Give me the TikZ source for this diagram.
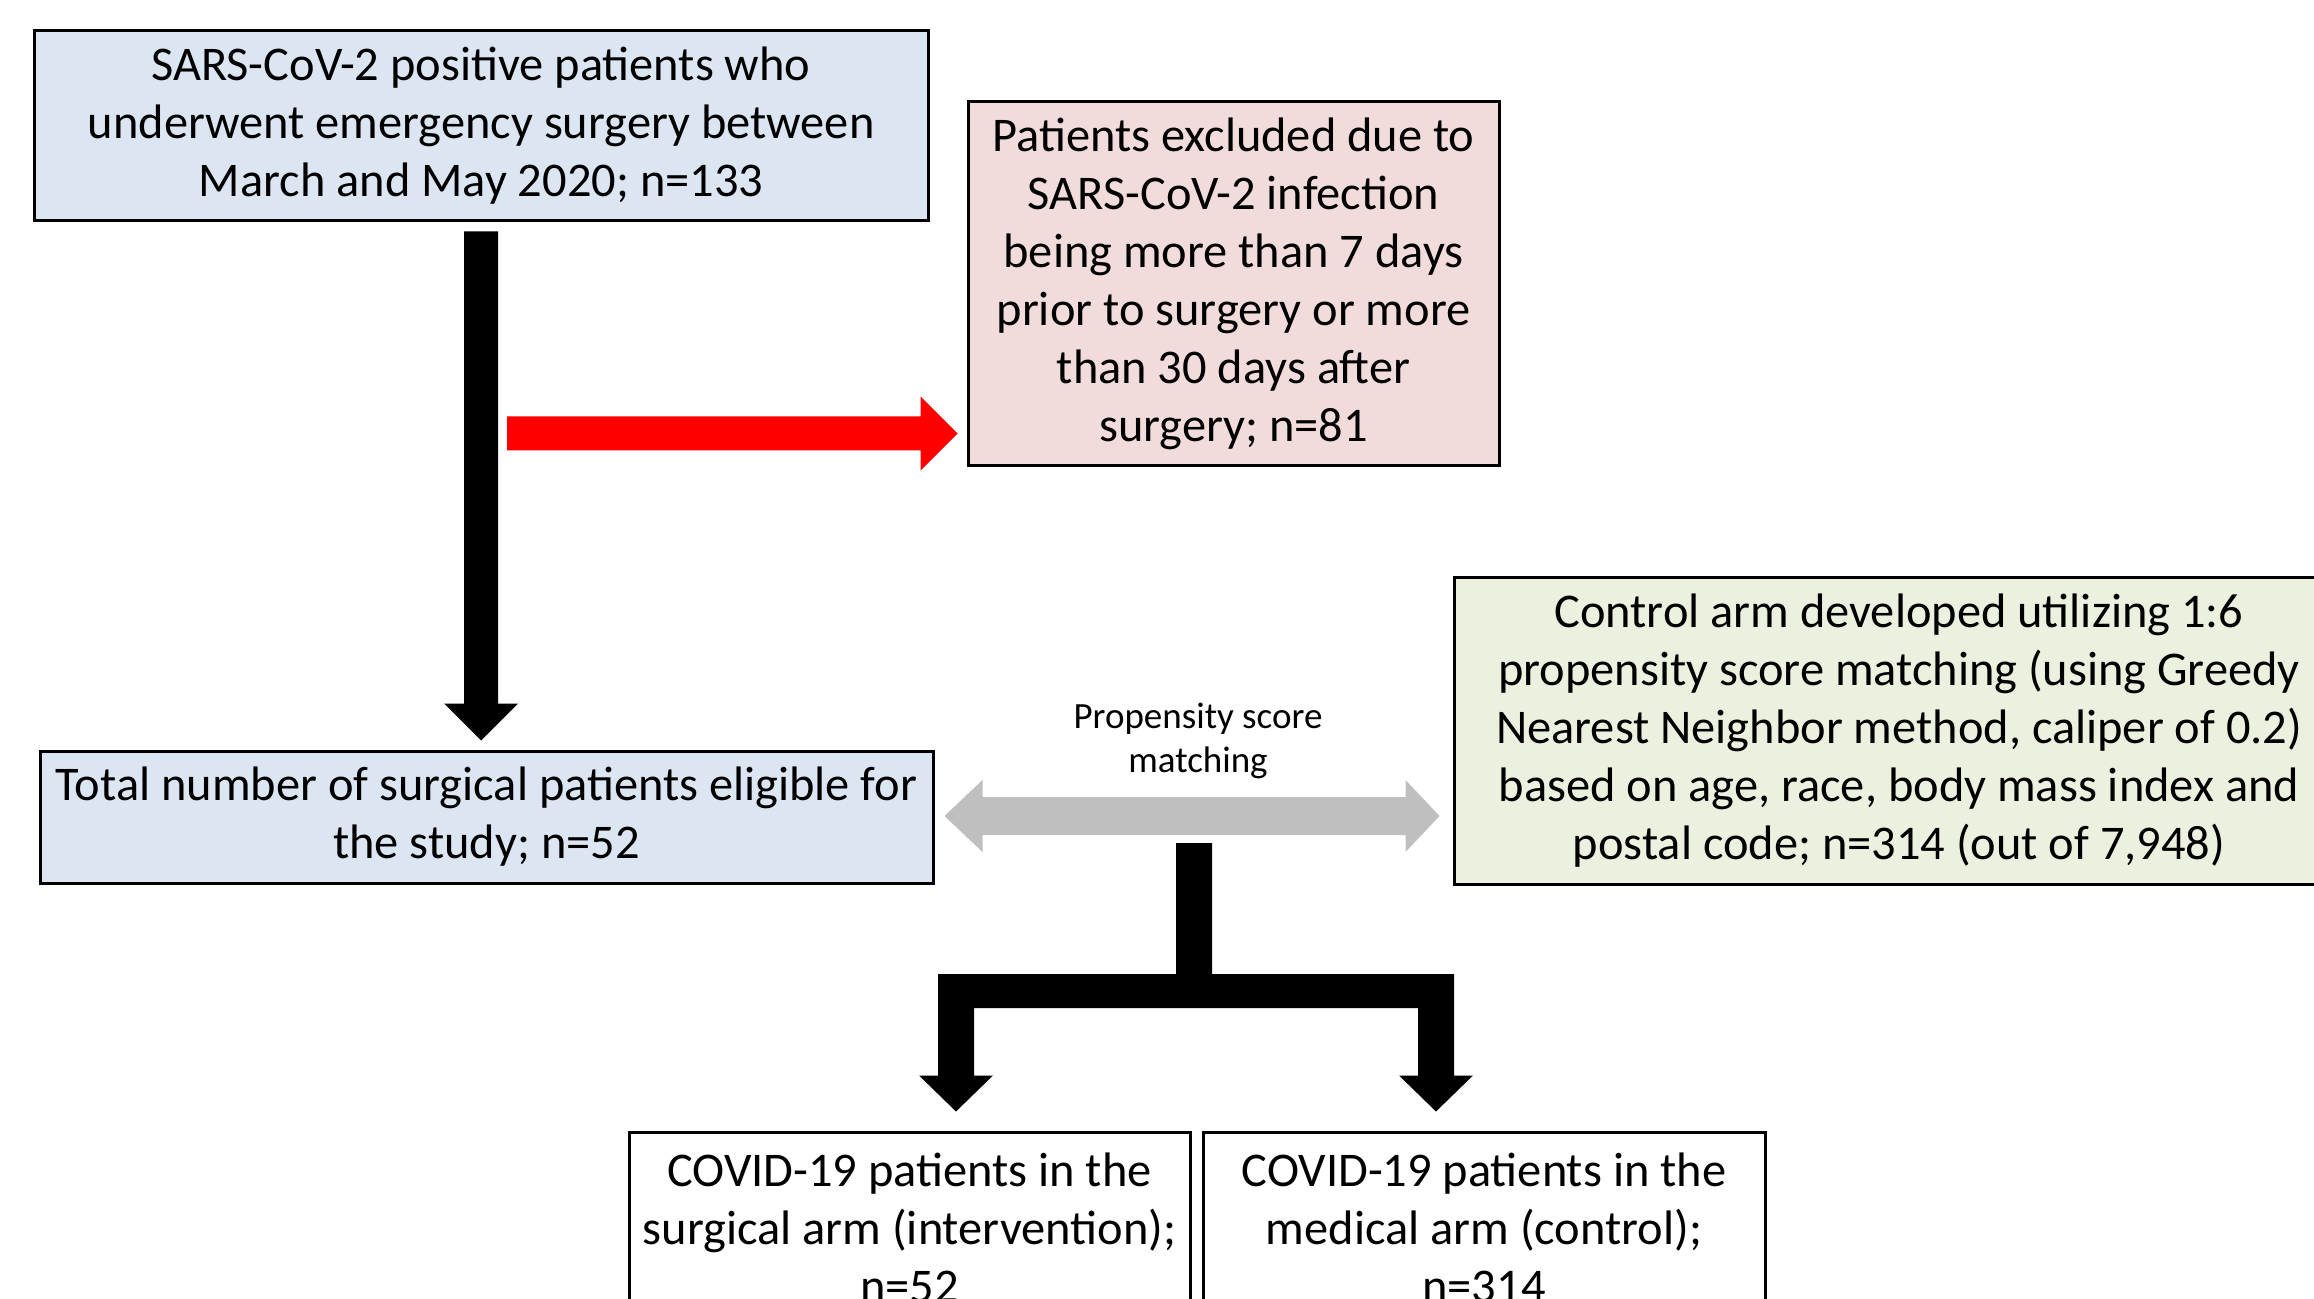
\documentclass[tikz,border=0pt]{standalone}
\usepackage{fontspec}
\setmainfont{Carlito}
\usetikzlibrary{calc}
\definecolor{boxblue}{HTML}{DCE6F2}
\definecolor{boxpink}{HTML}{F2DCDB}
\definecolor{boxgreen}{HTML}{EBF1DE}
\definecolor{arrowgrey}{HTML}{BFBFBF}
\begin{document}
\begin{tikzpicture}[x=0.5pt,y=-0.5pt,
  box/.style={draw=black,line width=1.5pt,align=center,inner sep=0pt,
    font=\fontsize{24.2}{29}\selectfont},
  smalllabel/.style={align=center,inner sep=0pt,font=\fontsize{18.5}{22}\selectfont},
  blockblack/.style={fill=black},
  blockred/.style={fill=red},
  blockgrey/.style={fill=arrowgrey}]
\useasboundingbox (0,0) rectangle (2314,1299);
\clip (0,0) rectangle (2314,1299);

\node[box,fill=boxblue,minimum width=447pt,minimum height=95pt] (b1) at (481,126)
  {SARS-CoV-2 positive patients who\\underwent emergency surgery between\\March and May 2020; n=133};
\node[box,fill=boxpink,minimum width=265.5pt,minimum height=182pt] (b2) at (1233.5,284)
  {Patients excluded due to\\SARS-CoV-2 infection\\being more than 7 days\\prior to surgery or more\\than 30 days after\\surgery; n=81};
\node[box,fill=boxblue,minimum width=446.5pt,minimum height=66pt] (b3) at (486.5,817)
  {Total number of surgical patients eligible for\\the study; n=52};
\node[box,fill=boxgreen,minimum width=445pt,minimum height=153.5pt] (b4) at (1899,730.5)
  {Control arm developed utilizing 1:6\\propensity score matching (using Greedy\\Nearest Neighbor method, caliper of 0.2)\\based on age, race, body mass index and\\postal code; n=314 (out of 7,948)};
\node[box,fill=white,minimum width=280.5pt,minimum height=96pt] (b5) at (909.5,1228)
  {COVID-19 patients in the\\surgical arm (intervention);\\n=52};
\node[box,fill=white,minimum width=281pt,minimum height=96pt] (b6) at (1484,1228)
  {COVID-19 patients in the\\medical arm (control);\\n=314};
\node[smalllabel] (lab) at (1198,741) {Propensity score\\matching};

% vertical black arrow b1 -> b3
\coordinate (a1s) at ($(b1.south)+(0,9)$);
\coordinate (a1e) at ($(a1s |- b3.north)+(0,-9)$);
\fill[blockblack] ($(a1s)+(-17,0)$) -- ($(a1s)+(17,0)$) -- ($(a1e)+(17,-37)$)
  -- ($(a1e)+(37,-37)$) -- (a1e) -- ($(a1e)+(-37,-37)$) -- ($(a1e)+(-17,-37)$) -- cycle;

% red arrow to b2
\coordinate (r1) at ($(a1s)+(26,202)$);
\coordinate (r2) at ($(b2.west |- r1)+(-9,0)$);
\fill[blockred] ($(r1)+(0,-17)$) -- ($(r2)+(-37,-17)$) -- ($(r2)+(-37,-37)$) -- (r2)
  -- ($(r2)+(-37,37)$) -- ($(r2)+(-37,17)$) -- ($(r1)+(0,17)$) -- cycle;

% grey double arrow b3 <-> b4
\coordinate (g1) at ($(b3.east)+(10,-1)$);
\coordinate (g2) at ($(b4.west |- g1)+(-13,0)$);
\fill[blockgrey] (g1) -- ($(g1)+(38,-36)$) -- ($(g1)+(38,-19)$) -- ($(g2)+(-34,-19)$)
  -- ($(g2)+(-34,-36)$) -- (g2) -- ($(g2)+(-34,36)$) -- ($(g2)+(-34,19)$)
  -- ($(g1)+(38,19)$) -- ($(g1)+(38,36)$) -- cycle;

% split arrow to b5 and b6
\coordinate (t0) at (1194,843);
\coordinate (tl) at ($(b5.north)+(46.5,-19)$);
\coordinate (tr) at ($(b6.north)+(-48,-19)$);
\fill[blockblack] ($(t0)+(-18,0)$) -- ($(t0)+(18,0)$) -- ($(t0)+(18,131)$)
  -- ($(tr |- t0)+(18,131)$) -- ($(tr)+(18,-36)$) -- ($(tr)+(37,-36)$) -- (tr)
  -- ($(tr)+(-37,-36)$) -- ($(tr)+(-18,-36)$) -- ($(tr |- t0)+(-18,165)$)
  -- ($(tl |- t0)+(18,165)$) -- ($(tl)+(18,-36)$) -- ($(tl)+(37,-36)$) -- (tl)
  -- ($(tl)+(-37,-36)$) -- ($(tl)+(-18,-36)$) -- ($(tl |- t0)+(-18,131)$)
  -- ($(t0)+(-18,131)$) -- cycle;
\end{tikzpicture}
\end{document}
